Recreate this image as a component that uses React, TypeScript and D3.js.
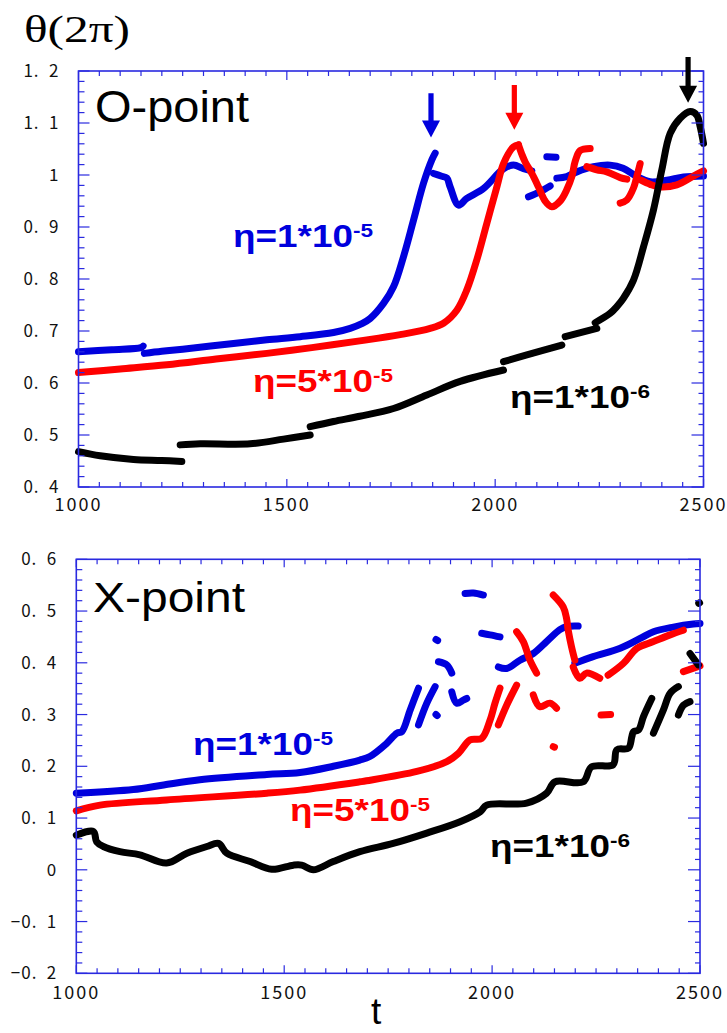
import React from "react";
import * as d3 from "d3";

type Pt = [number, number];

// ---------- DATA ----------
const tDomain: Pt = [1000, 2500];
const xTickLabels = ["1000", "1500", "2000", "2500"];
const oYTicks = [0.4, 0.5, 0.6, 0.7, 0.8, 0.9, 1.0, 1.1, 1.2];
const xYTicks = [-0.2, -0.1, 0, 0.1, 0.2, 0.3, 0.4, 0.5, 0.6];

// O-point, eta = 1e-5 (blue)
const oBlue: Pt[][] = [
  [[1000, 0.660], [1080, 0.664], [1150, 0.668], [1155, 0.671]],
  [[1158, 0.657], [1200, 0.661], [1250, 0.665], [1372, 0.676], [1452, 0.683], [1532, 0.689], [1612, 0.697], [1652, 0.705], [1680, 0.714], [1700, 0.724], [1732, 0.753], [1756, 0.785], [1780, 0.843], [1804, 0.913], [1828, 0.984], [1848, 1.029], [1856, 1.042]],
  [[1852, 1.003], [1870, 0.998], [1884, 0.994], [1892, 0.977], [1912, 0.942], [1932, 0.955], [1972, 0.974], [2020, 1.012], [2044, 1.019], [2068, 1.012], [2088, 1.008]],
  [[2124, 1.035], [2146, 1.034]],
  [[2080, 0.958], [2108, 0.968], [2132, 0.979]],
  [[2148, 0.994], [2172, 0.997], [2196, 1.006], [2236, 1.016], [2276, 1.019], [2307, 1.013], [2340, 0.997], [2372, 0.987], [2412, 0.990], [2452, 0.996], [2500, 0.998]],
];
// O-point, eta = 5e-5 (red)
const oRed: Pt[][] = [
  [[1000, 0.620], [1100, 0.627], [1212, 0.635], [1330, 0.646], [1452, 0.657], [1560, 0.668], [1675, 0.681], [1772, 0.693], [1844, 0.705], [1876, 0.715], [1908, 0.740], [1932, 0.779], [1956, 0.837], [1980, 0.907], [2004, 0.977], [2020, 1.022], [2044, 1.054], [2056, 1.058]],
  [[2056, 1.058], [2064, 1.040], [2072, 1.025], [2088, 1.003], [2104, 0.977], [2120, 0.950], [2136, 0.939], [2156, 0.950], [2172, 0.972], [2184, 0.997], [2192, 1.026], [2204, 1.047], [2228, 1.051]],
  [[2220, 1.016], [2244, 1.010], [2268, 1.006], [2300, 0.995], [2316, 0.992]],
  [[2300, 0.946], [2316, 0.952], [2332, 0.975], [2340, 0.997], [2348, 1.022]],
  [[2350, 0.990], [2372, 0.982], [2396, 0.977], [2436, 0.981], [2476, 0.998], [2500, 1.008]],
];
// O-point, eta = 1e-6 (black)
const oBlack: Pt[][] = [
  [[1000, 0.468], [1052, 0.460], [1132, 0.453], [1200, 0.451], [1248, 0.449]],
  [[1244, 0.481], [1292, 0.483], [1412, 0.483], [1492, 0.492], [1556, 0.500]],
  [[1556, 0.516], [1612, 0.526], [1675, 0.536], [1756, 0.551], [1836, 0.577], [1916, 0.603], [2020, 0.625]],
  [[2020, 0.641], [2076, 0.654], [2160, 0.673]],
  [[2168, 0.689], [2244, 0.705]],
  [[2240, 0.716], [2276, 0.734], [2292, 0.747], [2307, 0.762], [2332, 0.798], [2356, 0.862], [2380, 0.933], [2400, 1.010], [2420, 1.080], [2444, 1.109], [2468, 1.122], [2484, 1.115], [2492, 1.093], [2500, 1.061]],
];
// arrows marking the O-point peaks: [t, tail value, tip value]
const oArrows: [number, number, number][] = [
  [1846, 1.157, 1.072],
  [2046, 1.173, 1.087],
  [2463, 1.227, 1.139],
];

// X-point, eta = 1e-5 (blue)
const xBlue: Pt[][] = [
  [[1000, 0.148], [1137, 0.155], [1210, 0.164], [1297, 0.174], [1458, 0.184], [1538, 0.188], [1618, 0.200], [1682, 0.212], [1706, 0.219], [1746, 0.244], [1771, 0.264], [1783, 0.267], [1803, 0.309], [1823, 0.351]],
  [[1823, 0.280], [1843, 0.322], [1863, 0.354]],
  [[1865, 0.300], [1868, 0.298]],
  [[1865, 0.445], [1869, 0.443]],
  [[1871, 0.402], [1891, 0.396], [1903, 0.380]],
  [[1903, 0.344], [1915, 0.322], [1931, 0.328], [1939, 0.331]],
  [[1935, 0.534], [1955, 0.535], [1979, 0.531]],
  [[1975, 0.457], [1995, 0.454], [2019, 0.450]],
  [[2015, 0.392], [2035, 0.389], [2067, 0.405], [2099, 0.418], [2131, 0.441], [2163, 0.464], [2179, 0.470], [2207, 0.471]],
  [[2199, 0.399], [2243, 0.412], [2308, 0.428], [2356, 0.447], [2388, 0.460], [2436, 0.469], [2484, 0.475], [2500, 0.476]],
];
// X-point, eta = 5e-5 (red)
const xRed: Pt[][] = [
  [[1000, 0.114], [1057, 0.125], [1217, 0.135], [1458, 0.148], [1538, 0.154], [1682, 0.170], [1698, 0.172], [1819, 0.190], [1891, 0.209], [1919, 0.225], [1947, 0.251], [1975, 0.254], [1995, 0.289], [2007, 0.322], [2019, 0.351]],
  [[2015, 0.280], [2035, 0.318], [2059, 0.357]],
  [[2059, 0.460], [2075, 0.441], [2091, 0.405], [2107, 0.380]],
  [[2099, 0.338], [2115, 0.315], [2139, 0.322], [2155, 0.312]],
  [[2147, 0.238], [2150, 0.237]],
  [[2147, 0.531], [2171, 0.508], [2179, 0.486], [2183, 0.463], [2191, 0.431], [2199, 0.405]],
  [[2195, 0.392], [2211, 0.370], [2227, 0.380], [2259, 0.370]],
  [[2279, 0.376], [2316, 0.399], [2348, 0.428], [2388, 0.441], [2428, 0.454], [2460, 0.463]],
  [[2460, 0.383], [2500, 0.394]],
  [[2262, 0.299], [2285, 0.300]],
];
// X-point, eta = 1e-6 (black)
const xBlack: Pt[][] = [
  [[1000, 0.067], [1041, 0.074], [1049, 0.054], [1065, 0.045], [1105, 0.035], [1153, 0.029], [1217, 0.013], [1266, 0.032], [1314, 0.045], [1342, 0.051], [1362, 0.032], [1418, 0.016], [1470, 0.001], [1522, 0.009], [1542, 0.009], [1570, 0.000], [1618, 0.016], [1682, 0.035], [1762, 0.051], [1843, 0.071], [1923, 0.093], [1971, 0.112], [1987, 0.125], [2083, 0.129], [2131, 0.148], [2151, 0.170], [2219, 0.170], [2239, 0.199], [2291, 0.203], [2300, 0.232], [2328, 0.235], [2336, 0.257], [2340, 0.267], [2352, 0.270], [2364, 0.296], [2384, 0.331]],
  [[2388, 0.264], [2412, 0.309], [2428, 0.341], [2448, 0.354]],
  [[2448, 0.299], [2460, 0.318], [2476, 0.325]],
  [[2476, 0.418], [2496, 0.396]],
  [[2497, 0.515], [2499, 0.516]],
];

const seriesNames = ["1*10", "5*10", "1*10"];
const seriesExps = ["-5", "-5", "-6"];
const seriesColors = ["#0000dd", "#ff0000", "#000000"];

// ---------- RENDERING ----------
const FRAME = "#2a2ae0";
const tickFont = "'Noto Sans CJK JP', 'DejaVu Sans', sans-serif";
const labelFont = "'Liberation Sans', Arial, sans-serif";

function fmtY(v: number): string {
  const r = Math.round(v * 10) / 10;
  if (Math.abs(r) < 1e-9) return "0";
  if (Math.abs(r - Math.round(r)) < 1e-9) return String(Math.round(r));
  const s = Math.abs(r).toFixed(1).replace(".", ".\u2002");
  return (r < 0 ? "−" : "") + s;
}

type PanelProps = {
  x0: number; x1: number; y0: number; y1: number;
  yDomain: Pt; yTicks: number[];
  series: Pt[][][];
  xLabelDy: number;
  tickLenTop: [number, number];
};

function Panel(p: PanelProps) {
  const x = d3.scaleLinear().domain(tDomain).range([p.x0, p.x1]);
  const y = d3.scaleLinear().domain(p.yDomain).range([p.y1, p.y0]);
  const line = d3.line<Pt>().x((d) => x(d[0])).y((d) => y(d[1])).curve(d3.curveCatmullRom.alpha(0.5));
  const xMinor = d3.range(tDomain[0], tDomain[1] + 1, 50);
  const yMinor = d3.range(0, 41).map((i) => p.yDomain[0] + i * 0.02).filter((v) => v <= p.yDomain[1] + 1e-9);
  const isMajorX = (t: number) => Math.abs(t % 500) < 1e-6;
  const isMajorY = (v: number) => Math.abs(Math.round(v * 10) - v * 10) < 1e-6;
  return (
    <g>
      {p.series.map((segs, si) =>
        segs.map((seg, k) => (
          <path key={`${si}-${k}`} d={line(seg) || ""} fill="none" stroke={seriesColors[si]}
            strokeWidth={7} strokeLinecap="round" strokeLinejoin="round" />
        ))
      )}
      <rect x={p.x0} y={p.y0} width={p.x1 - p.x0} height={p.y1 - p.y0} fill="none" stroke={FRAME} strokeWidth={1.6} />
      {xMinor.map((t) => {
        const mj = isMajorX(t);
        return (
          <g key={`xt${t}`} stroke={FRAME} strokeWidth={1.2}>
            <line x1={x(t)} x2={x(t)} y1={p.y1} y2={p.y1 - (mj ? 8 : 5)} />
            <line x1={x(t)} x2={x(t)} y1={p.y0} y2={p.y0 + (mj ? p.tickLenTop[0] : p.tickLenTop[1])} />
          </g>
        );
      })}
      {yMinor.map((v, i) => {
        const mj = isMajorY(v);
        return (
          <g key={`yt${i}`} stroke={FRAME} strokeWidth={1.2}>
            <line x1={p.x0} x2={p.x0 + (mj ? 11 : 6)} y1={y(v)} y2={y(v)} />
            <line x1={p.x1} x2={p.x1 - (mj ? 12 : 5)} y1={y(v)} y2={y(v)} />
          </g>
        );
      })}
      {xTickLabels.map((s) => (
        <text key={`xl${s}`} x={x(+s)} y={p.y1 + p.xLabelDy} textAnchor="middle" fontFamily={tickFont}
          fontSize={18} letterSpacing={2} fill="#111">{s}</text>
      ))}
      {p.yTicks.map((v) => (
        <text key={`yl${v}`} x={p.x0 - 19} y={y(v)} dy="0.36em" textAnchor="end" fontFamily={tickFont}
          fontSize={17} letterSpacing={1} fill="#111" style={{ whiteSpace: "pre" }}>{fmtY(v)}</text>
      ))}
    </g>
  );
}

function EtaLabel(props: { x: number; y: number; i: number }) {
  const { x, y, i } = props;
  return (
    <text x={x} y={y} fontFamily={labelFont} fontWeight="bold" fontSize={31} fill={seriesColors[i]}
      textLength={140} lengthAdjust="spacingAndGlyphs">
      <tspan>η={seriesNames[i]}</tspan>
      <tspan dy={-10} fontSize={19}>{seriesExps[i]}</tspan>
    </text>
  );
}

export default function App() {
  const topX = d3.scaleLinear().domain(tDomain).range([78.5, 703.5]);
  const topY = d3.scaleLinear().domain([0.4, 1.2]).range([487, 71]);
  return (
    <svg width={727} height={1033} style={{ position: "absolute", left: 0, top: 0, background: "#fff" }}>
      <rect width={727} height={1033} fill="#fff" />
      <text x={24} y={42} fontFamily="'Liberation Serif', 'DejaVu Serif', serif" fontSize={38}
        textLength={106} lengthAdjust="spacingAndGlyphs" fill="#000">θ(2π)</text>

      <Panel x0={78.5} x1={703.5} y0={71} y1={487} yDomain={[0.4, 1.2]} yTicks={oYTicks}
        series={[oBlue, oRed, oBlack]} xLabelDy={24} tickLenTop={[9, 5]} />
      {oArrows.map(([t, from, to], i) => {
        const cx = topX(t), yt = topY(from), yp = topY(to);
        const hh = 17, hw = 9, sw = 2.6;
        const d = `M${cx - sw},${yt} L${cx + sw},${yt} L${cx + sw},${yp - hh} L${cx + hw},${yp - hh} L${cx},${yp} L${cx - hw},${yp - hh} L${cx - sw},${yp - hh} Z`;
        return <path key={`ar${i}`} d={d} fill={seriesColors[i]} />;
      })}
      <text x={95} y={122} fontFamily={labelFont} fontSize={44} textLength={154} lengthAdjust="spacingAndGlyphs" fill="#000">O-point</text>
      <EtaLabel x={233} y={247} i={0} />
      <EtaLabel x={253} y={392} i={1} />
      <EtaLabel x={510} y={408} i={2} />

      <Panel x0={76.3} x1={700} y0={559.3} y1={973.3} yDomain={[-0.2, 0.6]} yTicks={xYTicks}
        series={[xBlue, xRed, xBlack]} xLabelDy={26} tickLenTop={[8, 5]} />
      <text x={93} y={612} fontFamily={labelFont} fontSize={42} textLength={152} lengthAdjust="spacingAndGlyphs" fill="#000">X-point</text>
      <EtaLabel x={193} y={755} i={0} />
      <EtaLabel x={290} y={821} i={1} />
      <EtaLabel x={490} y={857} i={2} />
      <text x={371} y={1024} fontFamily={labelFont} fontSize={37} fill="#000">t</text>
    </svg>
  );
}
